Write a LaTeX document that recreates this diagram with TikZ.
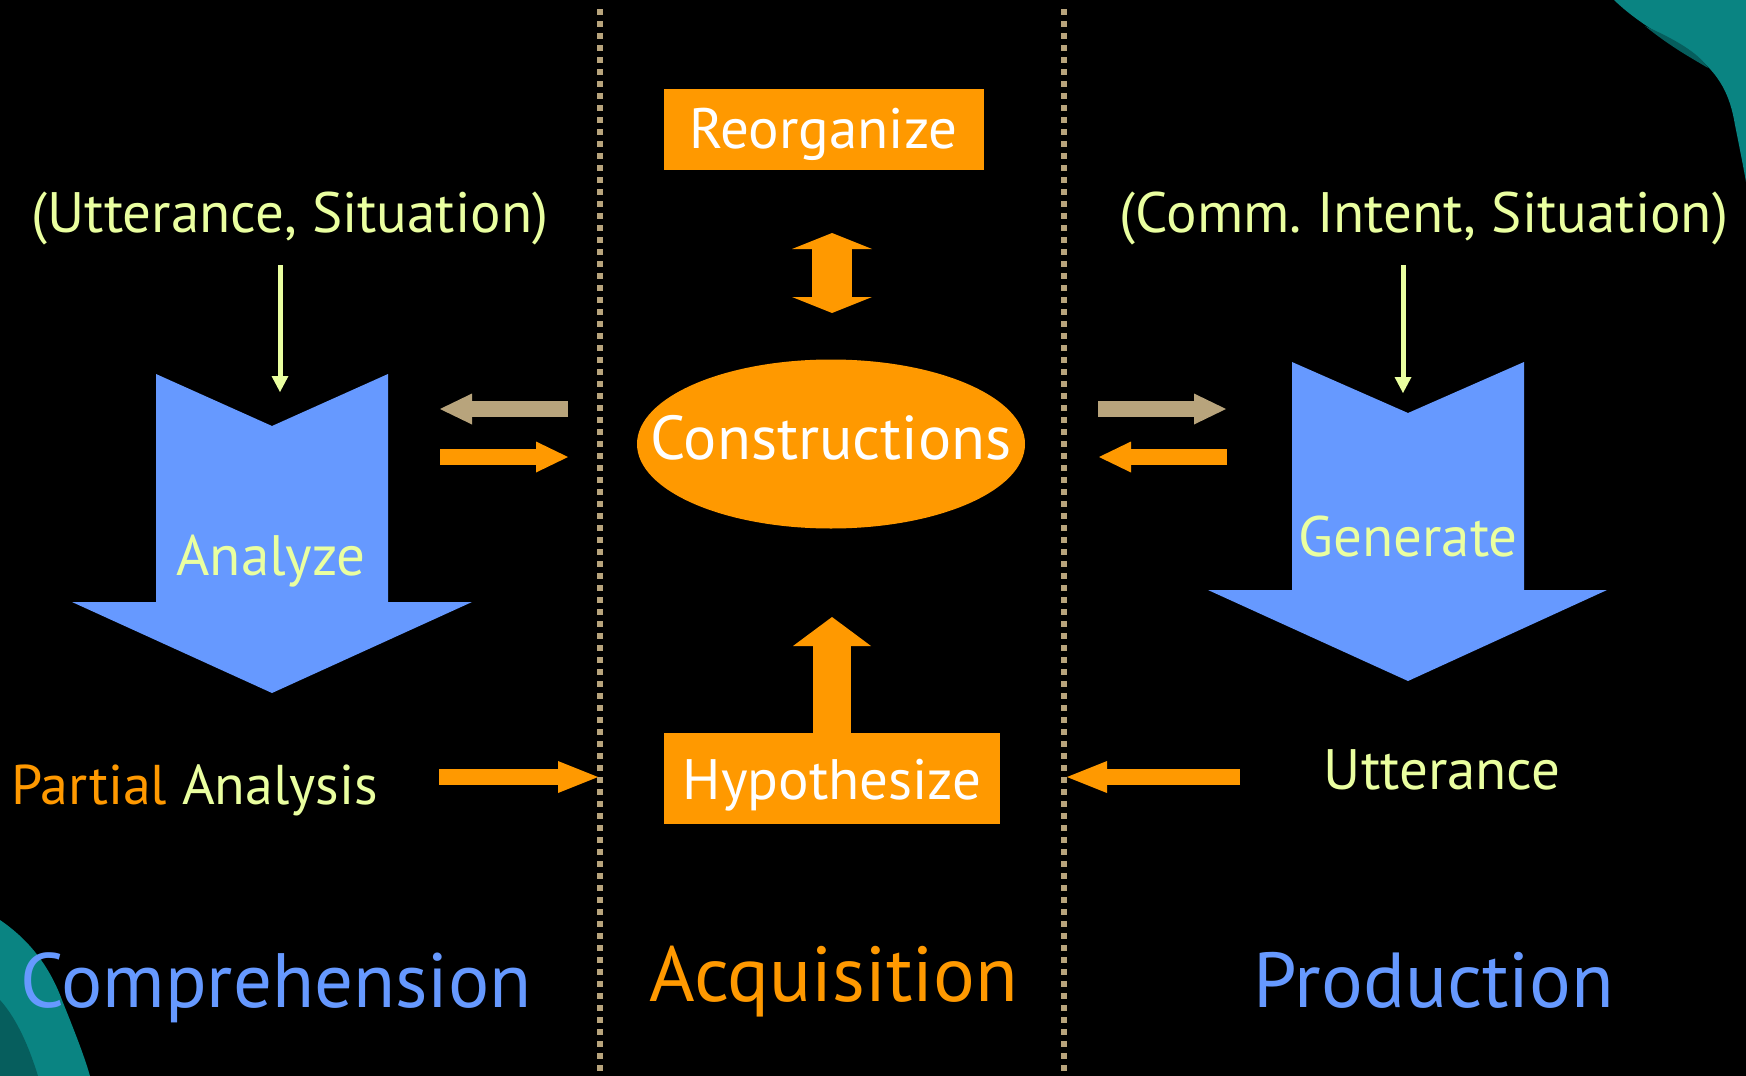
\documentclass[tikz,border=0pt]{standalone}
\usepackage{fontspec}
\setmainfont{PT Sans}
\usetikzlibrary{arrows.meta,shapes.geometric}
\definecolor{slideorange}{HTML}{FF9900}
\definecolor{slidetan}{HTML}{B8A47C}
\definecolor{slideblue}{HTML}{6699FF}
\definecolor{slideyellow}{HTML}{EAFFA0}
\definecolor{slideteal}{HTML}{0A8482}
\definecolor{slidetealdark}{HTML}{065E5D}
\begin{document}
\begin{tikzpicture}[x=1pt,y=-1pt,
  lbl/.style={inner sep=0pt, anchor=base, text=slideyellow, font=\fontsize{57}{64}\selectfont},
  heading/.style={inner sep=0pt, anchor=base, font=\fontsize{78}{88}\selectfont},
  stepbox/.style={rectangle, fill=slideorange, text=white, inner sep=0pt, font=\fontsize{57}{64}\selectfont},
  chevron/.style={fill=slideblue},
  fatarrow/.style={line width=16pt, -{Triangle[length=32pt,width=31pt,line width=0pt]}},
  longarrow/.style={line width=16pt, -{Triangle[length=40pt,width=32pt,line width=0pt]}},
  thinarrow/.style={draw=slideyellow, line width=5pt, -{Triangle[length=16pt,width=17pt,line width=0pt]}},
  divider/.style={draw=slidetan, line width=6pt, dash pattern=on 6pt off 6pt}
]
% background and bounding box
\fill[black] (0,0) rectangle (1746,1076);
\useasboundingbox (0,0) rectangle (1746,1076);

% teal decoration, top right corner
\fill[slideteal] (1614,0) .. controls (1640,25) and (1670,40) .. (1695,55)
  .. controls (1720,75) and (1730,95) .. (1735,125)
  .. controls (1740,150) and (1743,165) .. (1746,182) -- (1746,0) -- cycle;
\fill[slidetealdark] (1645,26) .. controls (1672,38) and (1698,52) .. (1708,68)
  .. controls (1695,60) and (1672,48) .. cycle;
% teal decoration, bottom left corner
\fill[slideteal] (0,920) .. controls (25,937) and (48,962) .. (62,1000)
  .. controls (74,1030) and (84,1055) .. (90,1076) -- (0,1076) -- cycle;
\fill[slidetealdark] (0,1000) .. controls (18,1020) and (30,1050) .. (38,1076) -- (0,1076) -- cycle;

% dotted dividers
\draw[divider] (600,9) -- (600,1076);
\draw[divider] (1064,9) -- (1064,1076);

% ---- Acquisition column ----
\node[stepbox, minimum width=320pt, minimum height=81pt, text height=38pt, text depth=0pt]
  (reorg) at (823.5,129.5) {Reorganize};
\node[ellipse, fill=slideorange, inner sep=0pt, minimum width=388pt, minimum height=169pt]
  (cons) at (831,444) {};
\node[inner sep=0pt, anchor=base, text=white, font=\fontsize{62}{70}\selectfont]
  (consLabel) at (831,459) {Constructions};
\node[stepbox, minimum width=336pt, minimum height=91pt, text height=42pt, text depth=0pt]
  (hyp) at (832,778.5) {Hypothesize};

\coordinate (reorgA) at (832,233);
\coordinate (reorgB) at (832,313);
\draw[slideorange, line width=40pt,
  {Triangle[length=16pt,width=80pt,line width=0pt]}-{Triangle[length=16pt,width=80pt,line width=0pt]}]
  (reorgA) -- (reorgB);
\coordinate (hypTip) at (832,617);
\draw[slideorange, line width=38pt, -{Triangle[length=29pt,width=78pt,line width=0pt]}]
  (hyp.north) -- (hypTip);

% ---- Comprehension column ----
\node[lbl] (uttsit) at (290,232) {(Utterance, Situation)};
\fill[chevron] (156,374) -- (272,426) -- (388,374) -- (388,602) -- (472,602)
  -- (272,693) -- (72,602) -- (156,602) -- cycle;
\node[lbl] (analyze) at (271,575) {Analyze};
\coordinate (uttsitOut) at (280,265);
\coordinate (analyzeIn) at (280,392);
\draw[thinarrow] (uttsitOut) -- (analyzeIn);
\node[lbl, anchor=base west, font=\fontsize{56}{64}\selectfont] (partial) at (11,804)
  {\textcolor{slideorange}{Partial} Analysis};
\node[heading, text=slideblue, font=\fontsize{77}{88}\selectfont] (comp) at (276,1007) {Comprehension};

\coordinate (lt1) at (568,409); \coordinate (lt2) at (440,409);
\draw[fatarrow, slidetan] (lt1) -- (lt2);
\coordinate (lo1) at (440,457); \coordinate (lo2) at (568,457);
\draw[fatarrow, slideorange] (lo1) -- (lo2);
\coordinate (pa1) at (439,777); \coordinate (pa2) at (598,777);
\draw[longarrow, slideorange] (pa1) -- (pa2);

% ---- Production column ----
\node[lbl] (intent) at (1424,232) {(Comm.\ Intent, Situation)};
\fill[chevron] (1292,362) -- (1408,413) -- (1524,362) -- (1524,590) -- (1607,590)
  -- (1408,681) -- (1208,590) -- (1292,590) -- cycle;
\node[lbl] (generate) at (1408,556) {Generate};
\coordinate (intentOut) at (1403,265);
\coordinate (generateIn) at (1403,393);
\draw[thinarrow] (intentOut) -- (generateIn);
\node[lbl] (utt) at (1442,789) {Utterance};
\node[heading, text=slideblue] (prod) at (1434,1007) {Production};

\coordinate (rt1) at (1098,409); \coordinate (rt2) at (1226,409);
\draw[fatarrow, slidetan] (rt1) -- (rt2);
\coordinate (ro1) at (1227,457); \coordinate (ro2) at (1099,457);
\draw[fatarrow, slideorange] (ro1) -- (ro2);
\coordinate (ut1) at (1240,777); \coordinate (ut2) at (1067,777);
\draw[longarrow, slideorange] (ut1) -- (ut2);

\node[heading, text=slideorange] (acq) at (834,1001) {Acquisition};
\end{tikzpicture}
\end{document}
